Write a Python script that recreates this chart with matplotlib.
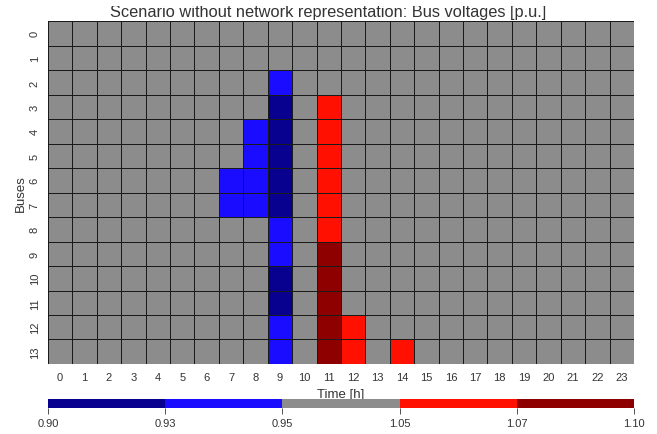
import numpy as np
import matplotlib
matplotlib.use("Agg")
import matplotlib.pyplot as plt
from matplotlib.colors import ListedColormap, BoundaryNorm
from matplotlib.transforms import Bbox, TransformedBbox

# =======================================================
# DATA

hours = list(range(24))
buses = list(range(14))

# bus voltages [p.u.], one row per bus, one column per hour
voltages = [
    [1.00]*24,
    [1.00]*24,
    [1.00]*9 + [0.94] + [1.00]*14,
    [1.00]*9 + [0.92, 1.00, 1.06] + [1.00]*12,
    [1.00]*8 + [0.94, 0.92, 1.00, 1.06] + [1.00]*12,
    [1.00]*8 + [0.94, 0.92, 1.00, 1.06] + [1.00]*12,
    [1.00]*7 + [0.94, 0.94, 0.92, 1.00, 1.06] + [1.00]*12,
    [1.00]*7 + [0.94, 0.94, 0.92, 1.00, 1.06] + [1.00]*12,
    [1.00]*9 + [0.94, 1.00, 1.06] + [1.00]*12,
    [1.00]*9 + [0.94, 1.00, 1.08] + [1.00]*12,
    [1.00]*9 + [0.92, 1.00, 1.08] + [1.00]*12,
    [1.00]*9 + [0.92, 1.00, 1.08] + [1.00]*12,
    [1.00]*9 + [0.94, 1.00, 1.08, 1.06] + [1.00]*11,
    [1.00]*9 + [0.94, 1.00, 1.08, 1.06, 1.00, 1.06] + [1.00]*9,
]

bounds = [0.90, 0.93, 0.95, 1.05, 1.07, 1.10]
colors = ["#08008f", "#1a0dff", "#8c8c8c", "#ff1000", "#8e0000"]

# =======================================================
# PLOT

plt.rcParams['font.family'] = ['Liberation Sans', 'DejaVu Sans']

cmap = ListedColormap(colors)
norm = BoundaryNorm(bounds, cmap.N)

fig = plt.figure(figsize=(6.57, 4.35), dpi=100)
ax = fig.add_axes([0.073, 0.161, 0.892, 0.788])

mesh = ax.pcolormesh(np.arange(25) - 0.5, np.arange(15) - 0.5, np.array(voltages),
                     cmap=cmap, norm=norm, edgecolors="#1a1a1a", linewidth=0.6)
ax.set_xlim(-0.5, 23.5)
ax.set_ylim(13.5, -0.5)
ax.set_xticks(hours)
ax.set_yticks(buses)
ax.set_yticklabels([str(b) for b in buses], rotation=90, va="center")
ax.tick_params(length=0, labelsize=8, colors="#333333", pad=6)
for s in ax.spines.values():
    s.set_visible(False)
ax.set_xlabel("Time [h]", fontsize=9.5, color="#333333", labelpad=4)
ax.set_ylabel("Buses", fontsize=9.5, color="#333333", labelpad=2)

# title sits partly above the top edge, as in the original
title = fig.text(0.5, 1 - 17/435, "Scenario without network representation: Bus voltages [p.u.]",
                 ha="center", va="baseline", fontsize=11.8, color="#333333")
title.set_clip_on(True)
title.set_clip_box(TransformedBbox(Bbox([[0, 0], [1, 1 - 7/435]]), fig.transFigure))

cax = fig.add_axes([0.073, 0.06, 0.892, 0.02])
cb = fig.colorbar(mesh, cax=cax, orientation="horizontal", boundaries=bounds,
                  spacing="uniform", ticks=bounds)
cb.set_ticklabels(["%.2f" % b for b in bounds])
cb.outline.set_visible(False)
cax.tick_params(labelsize=8, colors="#333333", length=4, width=0.6)

plt.savefig("out.png", dpi=100)
plt.close()
